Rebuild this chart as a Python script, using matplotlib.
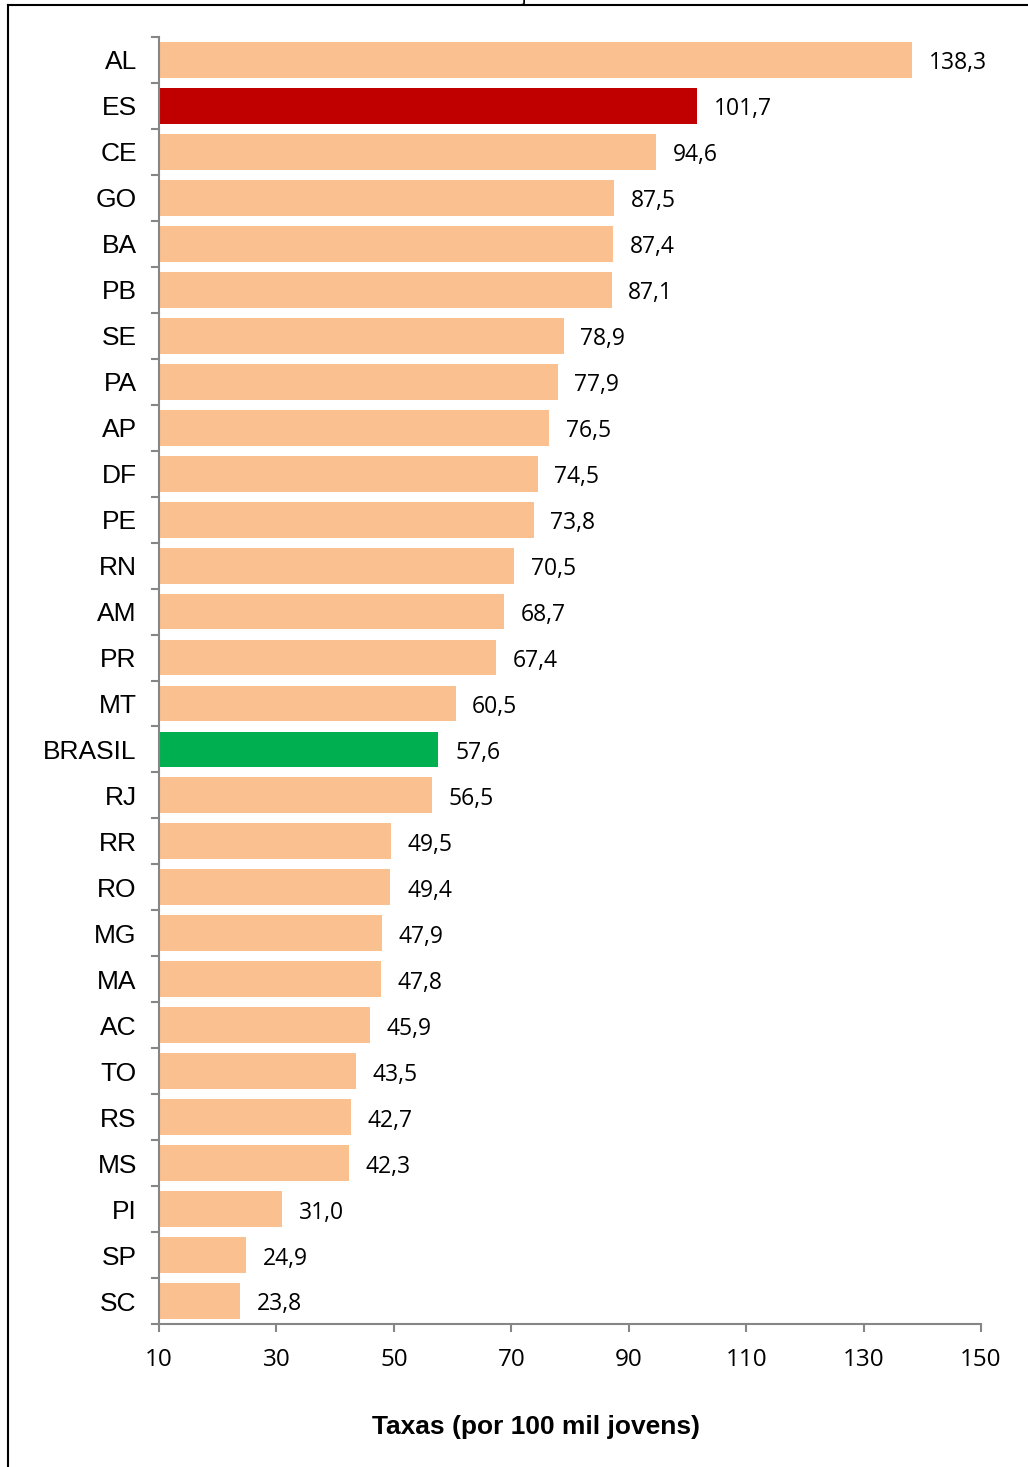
import matplotlib
matplotlib.use('Agg')
import matplotlib.pyplot as plt
from matplotlib.lines import Line2D

states = ['AL', 'ES', 'CE', 'GO', 'BA', 'PB', 'SE', 'PA', 'AP', 'DF', 'PE', 'RN', 'AM', 'PR',
          'MT', 'BRASIL', 'RJ', 'RR', 'RO', 'MG', 'MA', 'AC', 'TO', 'RS', 'MS', 'PI', 'SP', 'SC']
rates = [138.3, 101.7, 94.6, 87.5, 87.4, 87.1, 78.9, 77.9, 76.5, 74.5, 73.8, 70.5, 68.7, 67.4,
         60.5, 57.6, 56.5, 49.5, 49.4, 47.9, 47.8, 45.9, 43.5, 42.7, 42.3, 31.0, 24.9, 23.8]
xticks = [10, 30, 50, 70, 90, 110, 130, 150]

base_color = '#FAC090'
special = {'ES': '#C00000', 'BRASIL': '#00B050'}
colors = [special.get(s, base_color) for s in states]

fig = plt.figure(figsize=(10.28, 14.67), dpi=100)
ax = fig.add_axes([159 / 1028, 1 - 1324 / 1467, 822 / 1028, 1287 / 1467])

ypos = list(range(len(states)))
ax.barh(ypos, [r - 10 for r in rates], left=10, height=0.78, color=colors)
ax.set_xlim(10, 150)
ax.set_ylim(len(states) - 0.5, -0.5)

for y, r in zip(ypos, rates):
    ax.annotate(f'{r:.1f}'.replace('.', ','), (r, y), xytext=(12, -2.5), textcoords='offset points',
                va='center', ha='left', fontsize=16.5, family='Open Sans', color='black')

# y labels centred on bars, ticks at category boundaries
ax.set_yticks(ypos)
ax.set_yticklabels(states, family='Liberation Sans', fontsize=19)
ax.tick_params(axis='y', length=0, pad=16)
for b in range(len(states) + 1):
    ax.add_line(Line2D([-0.008, 0], [b - 0.5, b - 0.5], transform=ax.get_yaxis_transform(),
                       color='#868686', lw=1.5, clip_on=False))

ax.set_xticks(xticks)
ax.set_xticklabels([str(t) for t in xticks], family='Open Sans', fontsize=17.5)
ax.tick_params(axis='x', length=6, width=1.5, color='#868686', pad=11)

for side in ['top', 'right']:
    ax.spines[side].set_visible(False)
for side in ['left', 'bottom']:
    ax.spines[side].set_color('#868686')
    ax.spines[side].set_linewidth(1.5)

ax.set_xlabel('Taxas (por 100 mil jovens)', family='Liberation Sans', fontweight='bold',
              fontsize=19)
ax.xaxis.set_label_coords((536 - 159) / 822, -(1427 - 1324) / 1287)
ax.xaxis.label.set_va('center')

# outer frame (partially cut off in the original)
fig.add_artist(Line2D([8 / 1028, 1.0], [1 - 5 / 1467, 1 - 5 / 1467], transform=fig.transFigure,
                      color='black', lw=1.5))
fig.add_artist(Line2D([8 / 1028, 8 / 1028], [0, 1 - 5 / 1467], transform=fig.transFigure,
                      color='black', lw=1.5))
fig.text(524 / 1028, 1 - 1 / 1467, 'j', fontsize=14, family='Liberation Sans',
         va='baseline', ha='center')

fig.savefig('out.png', dpi=100)
